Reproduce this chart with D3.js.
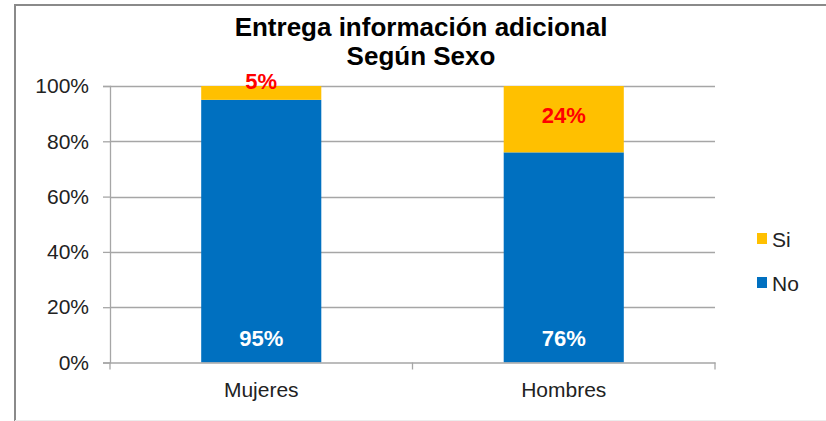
<!DOCTYPE html>
<html>
<head>
<meta charset="utf-8">
<script src="https://cdn.jsdelivr.net/npm/d3@7"></script>
<style>
  body { margin: 0; background: #fff; }
  svg { display: block; font-family: "Liberation Sans", Arial, sans-serif; }
</style>
</head>
<body>
<svg id="chart"></svg>
<script>
// data
const categories = ["Mujeres", "Hombres"];
const noValues = [0.95, 0.76];
const siValues = [0.05, 0.24];
const seriesNames = ["Si", "No"];
const yTicks = [0, 0.2, 0.4, 0.6, 0.8, 1];

const colors = { No: "#0070C0", Si: "#FFC000" };

const svgWidth = 826;
const svgHeight = 421;
const margin = { top: 86, right: 111, bottom: 58.5, left: 110 };
const width = svgWidth - margin.left - margin.right;
const height = svgHeight - margin.top - margin.bottom;

const svg = d3.select("#chart")
  .attr("width", svgWidth)
  .attr("height", svgHeight);

// outer frame
svg.append("path")
  .attr("d", "M15,421 V5 H826")
  .attr("fill", "none")
  .attr("stroke", "#8a8a8a")
  .attr("stroke-width", 2);
svg.append("line")
  .attr("x1", 15).attr("x2", 826).attr("y1", 420.5).attr("y2", 420.5)
  .attr("stroke", "#ececec");

// title
const title = svg.append("text")
  .attr("text-anchor", "middle")
  .attr("font-weight", "bold")
  .attr("font-size", 26)
  .attr("fill", "#000");
title.append("tspan").attr("x", 421).attr("y", 36).text("Entrega información adicional");
title.append("tspan").attr("x", 421).attr("y", 65).text("Según Sexo");

const x = d3.scaleBand()
  .domain(categories)
  .range([margin.left, margin.left + width])
  .paddingInner(0.603)
  .paddingOuter(0.3015);

const y = d3.scaleLinear()
  .domain([0, 1])
  .range([margin.top + height, margin.top]);

// gridlines
svg.append("g")
  .selectAll("line")
  .data(yTicks.filter(d => d > 0))
  .enter().append("line")
  .attr("x1", margin.left)
  .attr("x2", margin.left + width)
  .attr("y1", d => Math.round(y(d)) + 0.5)
  .attr("y2", d => Math.round(y(d)) + 0.5)
  .attr("stroke", "#a6a6a6")
  .attr("stroke-width", 1.3);

// y axis
const yAxis = svg.append("g")
  .attr("transform", `translate(${margin.left},0)`)
  .call(d3.axisLeft(y).tickValues(yTicks).tickFormat(d3.format(".0%")).tickSize(7).tickPadding(14));
yAxis.select(".domain").attr("stroke", "#a6a6a6").attr("stroke-width", 1.3);
yAxis.selectAll(".tick line").attr("stroke", "#a6a6a6").attr("stroke-width", 1.3);
yAxis.selectAll(".tick text")
  .attr("font-size", 21)
  .attr("font-family", "Liberation Sans, Arial, sans-serif")
  .attr("fill", "#222");

// stacked bars
const stackData = categories.map((c, i) => ({ cat: c, No: noValues[i], Si: siValues[i] }));
const stacked = d3.stack().keys(["No", "Si"])(stackData);

svg.append("g")
  .selectAll("g")
  .data(stacked)
  .enter().append("g")
  .attr("fill", d => colors[d.key])
  .selectAll("rect")
  .data(d => d)
  .enter().append("rect")
  .attr("x", d => x(d.data.cat))
  .attr("y", d => y(d[1]))
  .attr("width", x.bandwidth())
  .attr("height", d => y(d[0]) - y(d[1]));

// x axis
const xAxis = svg.append("g")
  .attr("transform", `translate(0,${margin.top + height})`)
  .call(d3.axisBottom(x).tickSize(0).tickPadding(20));
xAxis.select(".domain").attr("stroke", "#a6a6a6").attr("stroke-width", 1.3);
xAxis.selectAll(".tick text")
  .attr("font-size", 21)
  .attr("font-family", "Liberation Sans, Arial, sans-serif")
  .attr("fill", "#222");
// tick marks between categories
const bounds = [margin.left, (x(categories[0]) + x.bandwidth() + x(categories[1])) / 2, margin.left + width];
xAxis.selectAll(".sep")
  .data(bounds)
  .enter().append("line")
  .attr("x1", d => d).attr("x2", d => d)
  .attr("y1", 0).attr("y2", 7)
  .attr("stroke", "#a6a6a6")
  .attr("stroke-width", 1.3);

// value labels
const noLayer = stacked[0];
const siLayer = stacked[1];

svg.append("g")
  .selectAll("text")
  .data(noLayer)
  .enter().append("text")
  .attr("x", d => x(d.data.cat) + x.bandwidth() / 2)
  .attr("y", d => y(d[0]) - 17)
  .attr("text-anchor", "middle")
  .attr("font-weight", "bold")
  .attr("font-size", 22)
  .attr("fill", "#fff")
  .text(d => d3.format(".0%")(d[1] - d[0]));

svg.append("g")
  .selectAll("text")
  .data(siLayer)
  .enter().append("text")
  .attr("x", d => x(d.data.cat) + x.bandwidth() / 2)
  .attr("y", d => {
    const h = y(d[0]) - y(d[1]);
    const mid = (y(d[0]) + y(d[1])) / 2;
    return h < 20 ? y(d[1]) - 5 : mid - 4;
  })
  .attr("dy", "0.36em")
  .attr("text-anchor", "middle")
  .attr("font-weight", "bold")
  .attr("font-size", 22)
  .attr("fill", "#ff0000")
  .text(d => d3.format(".0%")(d[1] - d[0]));

// legend
const legend = svg.append("g")
  .selectAll("g")
  .data(seriesNames)
  .enter().append("g")
  .attr("transform", (d, i) => `translate(757,${233 + i * 44})`);
legend.append("rect")
  .attr("width", 10)
  .attr("height", 11)
  .attr("fill", d => colors[d]);
legend.append("text")
  .attr("x", 15)
  .attr("y", 14)
  .attr("font-size", 21)
  .attr("fill", "#222")
  .text(d => d);
</script>
</body>
</html>
